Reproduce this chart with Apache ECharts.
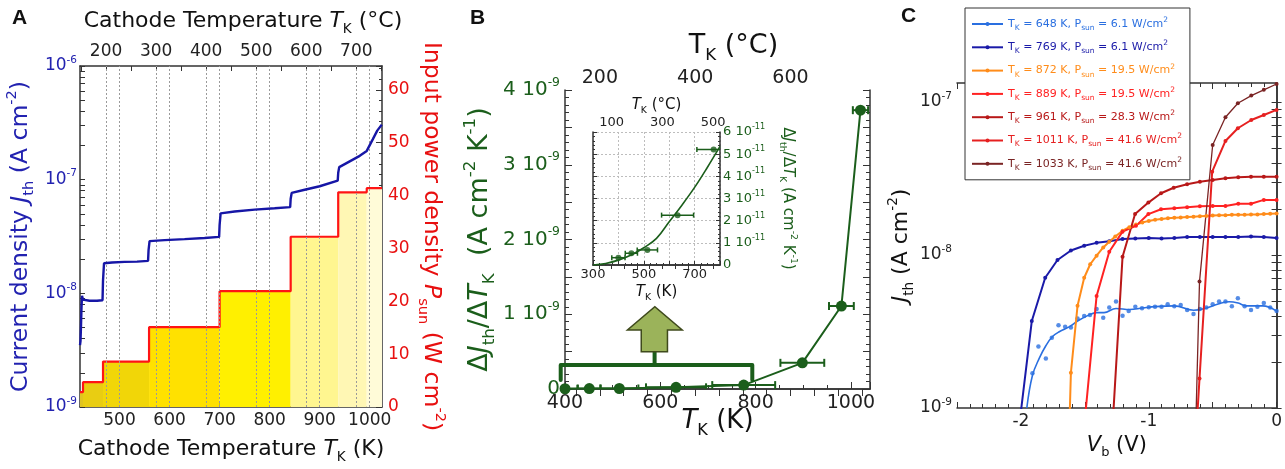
<!DOCTYPE html>
<html>
<head>
<meta charset="utf-8">
<script src="https://cdn.jsdelivr.net/npm/echarts@6/dist/echarts.min.js"></script>
<style>html,body{margin:0;padding:0;background:#fff}#c{width:1285px;height:469px}</style>
</head>
<body>
<div id="c"></div>
<script>
// ---------------- Panel A data ----------------
const aTempK = [421, 422, 423, 424, 425, 427, 440, 455, 466, 467, 469, 485, 510, 535, 557, 558, 560, 590, 630, 670, 699, 700, 702, 730, 770, 810, 841, 842, 844, 870, 900, 936, 937, 939, 960, 980, 994, 1006, 1015, 1024];
const aJth   = [3.5e-9, 3.8e-9, 5.2e-9, 7.5e-9, 9.5e-9, 8.8e-9, 8.6e-9, 8.6e-9, 8.7e-9, 1.3e-8, 1.84e-8, 1.87e-8, 1.89e-8, 1.9e-8, 1.93e-8, 2.4e-8, 2.88e-8, 2.94e-8, 3.0e-8, 3.07e-8, 3.14e-8, 4.0e-8, 5.05e-8, 5.25e-8, 5.45e-8, 5.6e-8, 5.73e-8, 6.8e-8, 7.64e-8, 8.15e-8, 8.75e-8, 9.8e-8, 1.15e-7, 1.29e-7, 1.45e-7, 1.62e-7, 1.79e-7, 2.26e-7, 2.7e-7, 3.05e-7];
const aPsunK = [421, 427, 467, 559, 700, 842, 937, 994, 1024.5];
const aPsun  = [2.8, 4.7, 8.6, 15.1, 21.9, 32.2, 40.6, 41.4, 41.4];
const aTickK = [500, 600, 700, 800, 900, 1000];
const aTickC = [200, 300, 400, 500, 600, 700];
const aJLabels = [1e-9, 1e-8, 1e-7, 1e-6];

// ---------------- Panel B data ----------------
const bTempK   = [400, 451, 514, 633, 775, 898, 980, 1020];
const bTempErr = [26, 24, 40, 63, 66, 46, 26, 16];
const bRate    = [3.3e-12, 5.3e-12, 6.8e-12, 2.25e-11, 5.21e-11, 3.5e-10, 1.11e-9, 3.73e-9];
const fitK     = [300, 350, 400, 450, 500, 550, 600, 650, 700, 750, 800];
const fitRate  = [0, 0.7e-12, 2.2e-12, 4.5e-12, 7.8e-12, 1.2e-11, 1.95e-11, 2.7e-11, 3.5e-11, 4.4e-11, 5.35e-11];
const bTickK   = [400, 600, 800, 1000];
const bTickC   = [200, 400, 600];
const inTickC  = [100, 300, 500];
const inTickK  = [300, 500, 700];

// ---------------- Panel C data ----------------
const c648V = [-1.91, -1.863, -1.805, -1.758, -1.706, -1.654, -1.609, -1.557, -1.505, -1.46, -1.408, -1.356, -1.309, -1.256, -1.205, -1.157, -1.105, -1.053, -1.0, -0.951, -0.90, -0.852, -0.80, -0.75, -0.70, -0.65, -0.60, -0.55, -0.50, -0.45, -0.40, -0.35, -0.303, -0.25, -0.20, -0.15, -0.10, -0.05, 0];
const c648J = [1.69e-9, 2.52e-9, 2.11e-9, 2.88e-9, 3.48e-9, 3.4e-9, 3.36e-9, 3.85e-9, 3.99e-9, 4.06e-9, 4.44e-9, 3.89e-9, 4.53e-9, 4.96e-9, 4.01e-9, 4.31e-9, 4.59e-9, 4.48e-9, 4.55e-9, 4.59e-9, 4.59e-9, 4.76e-9, 4.63e-9, 4.71e-9, 4.37e-9, 4.11e-9, 4.44e-9, 4.53e-9, 4.76e-9, 4.96e-9, 4.96e-9, 4.63e-9, 5.21e-9, 4.63e-9, 4.37e-9, 4.59e-9, 4.86e-9, 4.53e-9, 4.31e-9];
const c648FitV = [-1.954, -1.91, -1.857, -1.805, -1.753, -1.70, -1.62, -1.557, -1.466, -1.408, -1.35, -1.256, -1.15, -1.05, -0.95, -0.80, -0.65, -0.57, -0.45, -0.37, -0.30, -0.24, -0.11, 0];
const c648FitJ = [1.0e-9, 1.63e-9, 2.11e-9, 2.55e-9, 2.93e-9, 3.15e-9, 3.40e-9, 3.7e-9, 4.06e-9, 4.2e-9, 4.2e-9, 4.47e-9, 4.4e-9, 4.5e-9, 4.6e-9, 4.65e-9, 4.35e-9, 4.45e-9, 4.8e-9, 4.95e-9, 4.85e-9, 4.65e-9, 4.65e-9, 4.3e-9];
const c769V = [-2.0, -1.915, -1.81, -1.714, -1.609, -1.505, -1.408, -1.309, -1.205, -1.105, -1.0, -0.90, -0.80, -0.70, -0.60, -0.50, -0.40, -0.30, -0.20, -0.10, 0];
const c769J = [9.5e-10, 3.7e-9, 7.1e-9, 9.27e-9, 1.07e-8, 1.15e-8, 1.2e-8, 1.23e-8, 1.27e-8, 1.28e-8, 1.29e-8, 1.28e-8, 1.29e-8, 1.31e-8, 1.31e-8, 1.31e-8, 1.31e-8, 1.31e-8, 1.32e-8, 1.31e-8, 1.29e-8];
const c872V = [-1.65, -1.609, -1.557, -1.505, -1.458, -1.408, -1.356, -1.309, -1.262, -1.205, -1.152, -1.10, -1.05, -1.0, -0.95, -0.90, -0.85, -0.80, -0.75, -0.70, -0.65, -0.60, -0.55, -0.50, -0.45, -0.40, -0.35, -0.30, -0.25, -0.20, -0.15, -0.10, -0.05, 0];
const c872J = [1.1e-10, 1.7e-9, 4.66e-9, 7.1e-9, 8.7e-9, 9.9e-9, 1.12e-8, 1.22e-8, 1.32e-8, 1.44e-8, 1.52e-8, 1.58e-8, 1.63e-8, 1.67e-8, 1.7e-8, 1.72e-8, 1.74e-8, 1.75e-8, 1.76e-8, 1.77e-8, 1.78e-8, 1.79e-8, 1.8e-8, 1.81e-8, 1.82e-8, 1.82e-8, 1.83e-8, 1.83e-8, 1.83e-8, 1.84e-8, 1.84e-8, 1.85e-8, 1.86e-8, 1.87e-8];
const c889V = [-1.5, -1.408, -1.309, -1.205, -1.10, -1.003, -0.904, -0.80, -0.70, -0.60, -0.50, -0.40, -0.30, -0.20, -0.10, 0];
const c889J = [8.4e-10, 5.4e-9, 1.05e-8, 1.42e-8, 1.55e-8, 1.85e-8, 1.99e-8, 2.02e-8, 2.05e-8, 2.08e-8, 2.09e-8, 2.09e-8, 2.16e-8, 2.16e-8, 2.29e-8, 2.29e-8];
const c961V = [-1.3, -1.205, -1.107, -1.003, -0.904, -0.805, -0.70, -0.60, -0.50, -0.40, -0.30, -0.20, -0.10, 0];
const c961J = [4.4e-10, 9.75e-9, 1.85e-8, 2.2e-8, 2.53e-8, 2.75e-8, 2.9e-8, 3.01e-8, 3.09e-8, 3.17e-8, 3.22e-8, 3.25e-8, 3.25e-8, 3.25e-8];
const c1011V = [-0.7, -0.603, -0.504, -0.40, -0.303, -0.198, -0.10, 0];
const c1011J = [7e-11, 1.56e-9, 3.5e-8, 5.56e-8, 6.73e-8, 7.62e-8, 8.22e-8, 8.87e-8];
const c1033V = [-0.7, -0.603, -0.50, -0.40, -0.303, -0.198, -0.10, 0];
const c1033J = [5e-12, 6.7e-9, 5.23e-8, 7.94e-8, 9.8e-8, 1.1e-7, 1.2e-7, 1.31e-7];
const cTempK = [648, 769, 872, 889, 961, 1011, 1033];
const cPsun  = ['6.1', '6.1', '19.5', '19.5', '28.3', '41.6', '41.6'];
const cXLabels = [-2, -1, 0];
const cYLabels = [1e-9, 1e-8, 1e-7];

// ---------------- styles ----------------
const FONT = 'DejaVu Sans';
const BLUE_A = '#1616a6', RED_A = '#ff1414', BLUE_T = '#2222b0', RED_T = '#e81010';
const GREEN = '#1b5e1b';
const aFill = ['#e0c420', '#e9cd12', '#f1d608', '#ffe100', '#fff000', '#fff690', '#fff7b4', '#fffbd8'];
const cColors = ['#2a6fe0', '#1a1aa8', '#ff8c1a', '#ff2222', '#b81818', '#e62020', '#7a2424'];
const cWidths = [1.6, 2, 2, 2, 2, 2, 1.3];

function richSet(size, color) {
  const s = Math.round(size * 0.62 * 10) / 10;
  return {
    n: {fontSize: size, color: color, fontFamily: FONT, lineHeight: Math.round(size * 1.35)},
    i: {fontSize: size, color: color, fontFamily: FONT, fontStyle: 'italic', lineHeight: Math.round(size * 1.35)},
    b: {fontSize: s, color: color, fontFamily: FONT, verticalAlign: 'bottom', lineHeight: Math.round(s)},
    t: {fontSize: s, color: color, fontFamily: FONT, verticalAlign: 'top', lineHeight: Math.round(s)}
  };
}
const axLine = {show: true, lineStyle: {color: '#333', width: 1.5}};
function tIn(len, custom) {
  const o = {show: true, inside: true, length: len, lineStyle: {color: '#333', width: 1}};
  if (custom) o.customValues = custom;
  return o;
}
const mTick = (n, len) => ({show: true, splitNumber: n, length: len, lineStyle: {color: '#333', width: 1}});
const noSplit = {show: false};
const zip = (a, b) => a.map((v, i) => [v, b[i]]);
function range(a, b, s) { const r = []; for (let v = a; v <= b + 1e-9; v += s) r.push(Math.round(v * 1000) / 1000); return r; }
function logTicks(e0, e1) { const r = []; for (let e = e0; e < e1; e++) for (let m = 1; m <= 9; m++) r.push(m * Math.pow(10, e)); r.push(Math.pow(10, e1)); return r; }
const expFmt = v => '{n|10}{t|' + Math.round(Math.log10(v)) + '}';
const plain = v => String(v);

const aKMin = 421, aKMax = 1024.5;
const bKMin = 400, bKMax = 1040;

// legend text
const cNames = cTempK.map(k => k + ' K');
const legendRich = {};
cColors.forEach((c, i) => {
  legendRich['m' + i] = {color: c, fontSize: 11, fontFamily: FONT, lineHeight: 16};
  legendRich['s' + i] = {color: c, fontSize: 7.5, fontFamily: FONT, lineHeight: 8, verticalAlign: 'bottom'};
  legendRich['p' + i] = {color: c, fontSize: 7.5, fontFamily: FONT, lineHeight: 8, verticalAlign: 'top'};
});

const errRender = (cap, lw) => function (params, api) {
  const k = api.value(0), v = api.value(1), e = api.value(2);
  const p0 = api.coord([k - e, v]), p1 = api.coord([k + e, v]);
  const st = {stroke: GREEN, lineWidth: lw};
  return {type: 'group', children: [
    {type: 'line', shape: {x1: p0[0], y1: p0[1], x2: p1[0], y2: p1[1]}, style: st},
    {type: 'line', shape: {x1: p0[0], y1: p0[1] - cap, x2: p0[0], y2: p0[1] + cap}, style: st},
    {type: 'line', shape: {x1: p1[0], y1: p1[1] - cap, x2: p1[0], y2: p1[1] + cap}, style: st}
  ]};
};

const letters = [
  {type: 'text', left: 12, top: 8, style: {text: 'A', font: 'bold 21px "Liberation Sans"', fill: '#111'}},
  {type: 'text', left: 470, top: 8, style: {text: 'B', font: 'bold 21px "Liberation Sans"', fill: '#111'}},
  {type: 'text', left: 901, top: 6, style: {text: 'C', font: 'bold 21px "Liberation Sans"', fill: '#111'}}
];

const chart = echarts.init(document.getElementById('c'), null, {renderer: 'canvas'});
const option = {
  animation: false,
  backgroundColor: '#fff',
  textStyle: {fontFamily: FONT},
  grid: [
    {left: 80, top: 66, width: 302, height: 344},
    {left: 565, top: 90, width: 305, height: 299},
    {left: 593, top: 132, width: 127, height: 133, show: true, backgroundColor: '#fff', borderWidth: 0},
    {left: 957, top: 83, width: 320, height: 325}
  ],
  legend: {
    orient: 'vertical', left: 965, top: 8,
    itemWidth: 31, itemHeight: 5, itemGap: 7.3,
    padding: [8, 8, 8, 6],
    backgroundColor: '#fff', borderColor: '#333', borderWidth: 1,
    selectedMode: false,
    data: cNames,
    formatter: name => {
      const i = cNames.indexOf(name);
      return `{m${i}|T}{s${i}|K}{m${i}| = ${cTempK[i]} K, P}{s${i}|sun}{m${i}| = ${cPsun[i]} W/cm}{p${i}|2}`;
    },
    textStyle: {rich: legendRich, fontSize: 11}
  },
  xAxis: [
    {gridIndex: 0, type: 'value', position: 'bottom', min: aKMin, max: aKMax,
      axisLine: axLine, axisTick: tIn(5, range(450, 1000, 50)),
      axisLabel: {customValues: aTickK, formatter: plain, fontSize: 17, color: '#222', margin: 5, fontFamily: FONT},
      splitLine: noSplit,
      name: '{n|Cathode Temperature }{i|T}{b|K}{n| (K)}', nameLocation: 'middle', nameGap: 27,
      nameTextStyle: {rich: richSet(22, '#111')}},
    {gridIndex: 0, type: 'value', position: 'top', min: aKMin - 273.15, max: aKMax - 273.15,
      axisLine: axLine, axisTick: tIn(5, range(150, 750, 50)),
      axisLabel: {customValues: aTickC, formatter: plain, fontSize: 17, color: '#222', margin: 6, fontFamily: FONT},
      splitLine: noSplit,
      name: '{n|Cathode Temperature }{i|T}{b|K}{n| (°C)}', nameLocation: 'middle', nameGap: 30,
      nameTextStyle: {rich: richSet(22, '#111'), padding: [0, 0, 0, 24]}},
    {gridIndex: 1, type: 'value', position: 'bottom', min: bKMin, max: bKMax, interval: 200,
      axisLine: axLine, axisTick: tIn(7), minorTick: mTick(4, 4),
      axisLabel: {formatter: v => bTickK.indexOf(v) >= 0 ? String(v) : '', fontSize: 19, color: '#222', margin: 5, fontFamily: FONT},
      splitLine: noSplit,
      name: '{i|T}{b|K}{n| (K)}', nameLocation: 'middle', nameGap: 15, nameMoveOverlap: false,
      nameTextStyle: {rich: richSet(26, '#111')}},
    {gridIndex: 1, type: 'value', position: 'top', min: bKMin - 273.15, max: bKMax - 273.15,
      axisLine: axLine, axisTick: tIn(7, range(150, 750, 50)),
      axisLabel: {customValues: bTickC, formatter: plain, fontSize: 19, color: '#222', margin: 2, fontFamily: FONT},
      splitLine: noSplit,
      name: '{n|T}{b|K}{n| (°C)}', nameLocation: 'middle', nameGap: 26,
      nameTextStyle: {rich: richSet(27, '#111'), padding: [0, 0, 0, 32]}},
    {gridIndex: 2, type: 'value', position: 'bottom', min: 300, max: 800, interval: 100,
      axisLine: axLine, axisTick: tIn(4), minorTick: mTick(4, 2),
      axisLabel: {formatter: v => inTickK.indexOf(v) >= 0 ? String(v) : '', fontSize: 13, color: '#222', margin: 3, fontFamily: FONT},
      splitLine: {show: true, lineStyle: {type: [2, 2], color: '#bdbdbd', width: 1}},
      name: '{i|T}{b|K}{n| (K)}', nameLocation: 'middle', nameGap: 17,
      nameTextStyle: {rich: richSet(15, '#111')}},
    {gridIndex: 2, type: 'value', position: 'top', min: 300 - 273.15, max: 800 - 273.15,
      axisLine: axLine, axisTick: tIn(4, range(50, 500, 50)),
      axisLabel: {customValues: inTickC, formatter: plain, fontSize: 13, color: '#222', margin: 3, fontFamily: FONT},
      splitLine: noSplit,
      name: '{i|T}{b|K}{n| (°C)}', nameLocation: 'middle', nameGap: 17,
      nameTextStyle: {rich: richSet(15, '#111')}},
    {gridIndex: 3, type: 'value', position: 'bottom', min: -2.5, max: 0, interval: 0.5,
      axisLine: axLine, axisTick: tIn(6), minorTick: mTick(5, 4),
      axisLabel: {formatter: v => cXLabels.indexOf(v) >= 0 ? String(v) : '', fontSize: 17, color: '#222', margin: 5, fontFamily: FONT},
      splitLine: noSplit,
      name: '{i|V}{b|b}{n| (V)}', nameLocation: 'middle', nameGap: 22,
      nameTextStyle: {rich: richSet(21, '#111')}},
    {gridIndex: 3, type: 'value', position: 'top', min: -2.5, max: 0, interval: 0.5,
      axisLine: axLine, axisTick: tIn(6), minorTick: mTick(5, 4),
      axisLabel: {show: false}, splitLine: noSplit}
  ],
  yAxis: [
    {gridIndex: 0, type: 'log', logBase: 10, position: 'left', min: 1e-9, max: 1e-6,
      axisLine: axLine, axisTick: tIn(5, logTicks(-9, -6)),
      axisLabel: {customValues: aJLabels, formatter: expFmt, margin: 3, rich: richSet(17, BLUE_T)},
      splitLine: noSplit,
      name: '{n|Current density }{i|J}{b|th}{n| (A cm}{t|-2}{n|)}', nameLocation: 'middle', nameGap: 43,
      nameTextStyle: {rich: richSet(23.5, BLUE_T)}},
    {gridIndex: 0, type: 'value', position: 'right', min: 0, max: 64.5, interval: 10,
      axisLine: axLine, axisTick: tIn(6), minorTick: mTick(5, 3),
      axisLabel: {formatter: v => (v % 10 === 0 && v <= 60) ? String(v) : '', color: RED_T, fontSize: 17, margin: 6, fontFamily: FONT},
      splitLine: noSplit,
      name: '{n|Input power density }{i|P}{b|sun}{n| (W cm}{t|-2}{n|)}', nameLocation: 'middle', nameRotate: -90, nameGap: 33,
      nameTextStyle: {rich: richSet(23.5, RED_T)}},
    {gridIndex: 1, type: 'value', position: 'left', min: 0, max: 4e-9, interval: 5e-10,
      axisLine: axLine, axisTick: tIn(7), minorTick: mTick(5, 4),
      axisLabel: {formatter: v => {
        const n = v / 1e-9;
        if (Math.abs(n) < 1e-6) return '{n|0}';
        if (Math.abs(n - Math.round(n)) > 1e-6) return '';
        return '{n|' + Math.round(n) + ' 10}{t|-9}';
      }, margin: 5, rich: richSet(20, GREEN)},
      splitLine: noSplit,
      name: '{n|Δ}{i|J}{b|th}{n|/Δ}{i|T}{b|K}{n|  (A cm}{t|-2}{n| K}{t|-1}{n|)}', nameLocation: 'middle', nameGap: 67,
      nameTextStyle: {rich: richSet(27, GREEN)}},
    {gridIndex: 1, type: 'value', position: 'right', min: 0, max: 4e-9, interval: 5e-10,
      axisLine: axLine, axisTick: tIn(7), minorTick: mTick(5, 4),
      axisLabel: {show: false}, splitLine: noSplit},
    {gridIndex: 2, type: 'value', position: 'left', min: 0, max: 6e-11, interval: 1e-11,
      axisLine: axLine, axisTick: tIn(4), minorTick: mTick(5, 2),
      axisLabel: {show: false},
      splitLine: {show: true, lineStyle: {type: [2, 2], color: '#bdbdbd', width: 1}}},
    {gridIndex: 2, type: 'value', position: 'right', min: 0, max: 6e-11, interval: 1e-11,
      axisLine: axLine, axisTick: tIn(4), minorTick: mTick(5, 2),
      axisLabel: {formatter: v => {
        const n = Math.round(v / 1e-11);
        return n === 0 ? '{n|0}' : '{n|' + n + ' 10}{t|-11}';
      }, margin: 3, rich: richSet(13, GREEN)},
      splitLine: noSplit,
      name: '{n|Δ}{i|J}{b|th}{n|/Δ}{i|T}{b|K}{n| (A cm}{t|-2}{n| K}{t|-1}{n|)}', nameLocation: 'middle', nameRotate: -90, nameGap: 58,
      nameTextStyle: {rich: richSet(15, GREEN)}},
    {gridIndex: 3, type: 'log', logBase: 10, position: 'left', min: 1e-9, max: 1.33e-7,
      axisLine: axLine, axisTick: tIn(5, logTicks(-9, -7)),
      axisLabel: {customValues: cYLabels, formatter: expFmt, margin: 5, rich: richSet(17, '#222')},
      splitLine: noSplit,
      name: '{i|J}{b|th}{n| (A cm}{t|-2}{n|)}', nameLocation: 'middle', nameGap: 40,
      nameTextStyle: {rich: richSet(22, '#111')}},
    {gridIndex: 3, type: 'log', logBase: 10, position: 'right', min: 1e-9, max: 1.33e-7,
      axisLine: axLine, axisTick: tIn(5, logTicks(-9, -7)),
      axisLabel: {show: false}, splitLine: noSplit}
  ],
  series: [
    // Panel A: grid lines
    {type: 'line', xAxisIndex: 0, yAxisIndex: 0, data: [], z: 3, silent: true,
      markLine: {silent: true, symbol: ['none', 'none'], label: {show: false}, animation: false,
        lineStyle: {type: [2, 2], color: '#9a9a9a', width: 1},
        emphasis: {disabled: true},
        data: [...aTickK.map(k => ({xAxis: k})), ...aTickC.map(c => ({xAxis: c + 273.15})), {yAxis: 1e-8}, {yAxis: 1e-7}]}},
    // Panel A: filled power steps
    {type: 'custom', xAxisIndex: 0, yAxisIndex: 1, z: 1, silent: true,
      data: aPsun.slice(0, aPsun.length - 1).map((p, i) => [aPsunK[i], aPsunK[i + 1], p]),
      encode: {x: [0, 1], y: 2},
      renderItem: (params, api) => {
        const a = api.coord([api.value(0), api.value(2)]);
        const b = api.coord([api.value(1), 0]);
        return {type: 'rect', shape: {x: a[0], y: a[1], width: b[0] - a[0], height: b[1] - a[1]},
          style: {fill: aFill[params.dataIndex]}};
      }},
    {type: 'line', xAxisIndex: 0, yAxisIndex: 1, z: 4, step: 'end', showSymbol: false,
      data: zip(aPsunK, aPsun), lineStyle: {color: RED_A, width: 2.2}},
    {type: 'line', xAxisIndex: 0, yAxisIndex: 0, z: 5, showSymbol: false,
      data: zip(aTempK, aJth), lineStyle: {color: BLUE_A, width: 2.4}},
    // Panel B main
    {type: 'custom', xAxisIndex: 2, yAxisIndex: 2, z: 3, clip: true,
      data: bTempK.map((k, i) => [k, bRate[i], bTempErr[i]]), encode: {x: 0, y: 1},
      renderItem: errRender(4, 2)},
    {type: 'line', xAxisIndex: 2, yAxisIndex: 2, z: 4, symbol: 'circle', symbolSize: 11,
      data: zip(bTempK, bRate), lineStyle: {color: GREEN, width: 2}, itemStyle: {color: GREEN}, clip: false},
    // Inset
    {type: 'line', xAxisIndex: 4, yAxisIndex: 5, z: 4, smooth: 0.4, showSymbol: false,
      data: zip(fitK, fitRate), lineStyle: {color: GREEN, width: 1.6}},
    {type: 'custom', xAxisIndex: 4, yAxisIndex: 5, z: 4, clip: true,
      data: bTempK.slice(0, 5).map((k, i) => [k, bRate[i], bTempErr[i]]), encode: {x: 0, y: 1},
      renderItem: errRender(2.5, 1.5)},
    {type: 'scatter', xAxisIndex: 4, yAxisIndex: 5, z: 5, symbolSize: 6,
      data: zip(bTempK.slice(0, 5), bRate.slice(0, 5)), itemStyle: {color: GREEN}},
    // Panel C
    {type: 'line', name: cNames[0], xAxisIndex: 6, yAxisIndex: 6, smooth: 0.4, showSymbol: false, symbol: 'circle', symbolSize: 4,
      data: zip(c648FitV, c648FitJ), lineStyle: {color: cColors[0], width: cWidths[0]}, itemStyle: {color: cColors[0]}},
    {type: 'scatter', name: cNames[0], xAxisIndex: 6, yAxisIndex: 6, symbolSize: 4.5,
      data: zip(c648V, c648J), itemStyle: {color: cColors[0]}},
    ...[[c769V, c769J], [c872V, c872J], [c889V, c889J], [c961V, c961J], [c1011V, c1011J], [c1033V, c1033J]].map((d, j) => {
      const i = j + 1;
      return {type: 'line', name: cNames[i], xAxisIndex: 6, yAxisIndex: 6, symbol: 'circle', symbolSize: 4, showSymbol: true,
        data: zip(d[0], d[1]), lineStyle: {color: cColors[i], width: cWidths[i]}, itemStyle: {color: cColors[i]}};
    })
  ],
  graphic: letters
};
chart.setOption(option);

// Annotation in panel B (bracket + arrow), placed in data units of panel B
const ann = {bracketK: [391, 793], bracketTop: 0.32e-9, bracketFoot: 0.12e-9, stemK: 588, stemTop: 0.5e-9,
  shaftK: [560, 615], headK: [531, 646], headBase: 0.79e-9, tip: 1.1e-9};
const bSeries = 5;
const P = (k, v) => chart.convertToPixel({seriesIndex: bSeries}, [k, v]);
const mid = (ann.headK[0] + ann.headK[1]) / 2;
chart.setOption({graphic: letters.concat([
  {type: 'polyline', z: 10, shape: {points: [P(ann.bracketK[0], ann.bracketFoot), P(ann.bracketK[0], ann.bracketTop), P(ann.bracketK[1], ann.bracketTop), P(ann.bracketK[1], ann.bracketFoot)]},
    style: {stroke: GREEN, lineWidth: 4, fill: null, lineJoin: 'round', lineCap: 'round'}},
  {type: 'polyline', z: 10, shape: {points: [P(ann.stemK, ann.bracketTop), P(ann.stemK, ann.stemTop)]},
    style: {stroke: GREEN, lineWidth: 4, fill: null}},
  {type: 'polygon', z: 11, shape: {points: [P(ann.shaftK[0], ann.stemTop), P(ann.shaftK[0], ann.headBase), P(ann.headK[0], ann.headBase), P(mid, ann.tip), P(ann.headK[1], ann.headBase), P(ann.shaftK[1], ann.headBase), P(ann.shaftK[1], ann.stemTop)]},
    style: {fill: '#9bb35a', stroke: '#3f4a1c', lineWidth: 1.5}}
])}, {replaceMerge: ['graphic']});
</script>
</body>
</html>
